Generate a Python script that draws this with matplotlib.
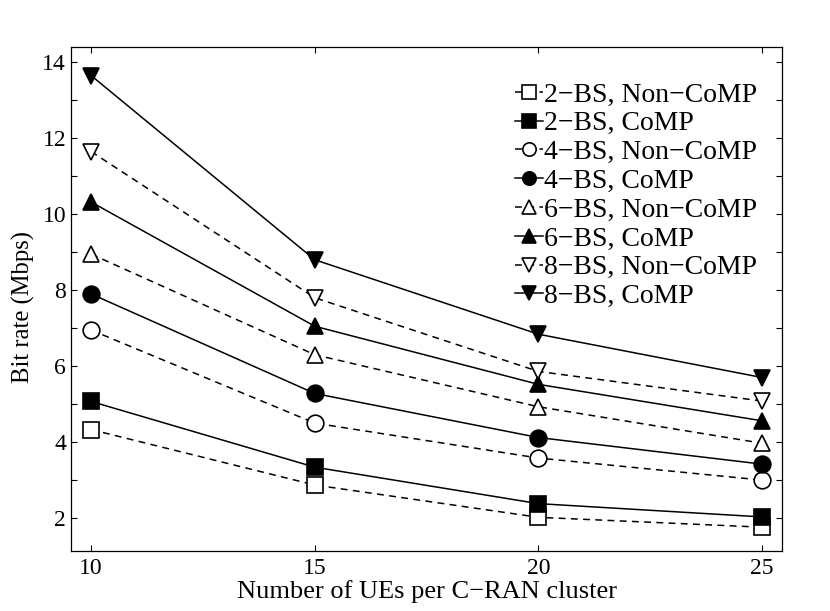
import numpy as np
import matplotlib.pyplot as plt
from matplotlib.ticker import MultipleLocator

plt.rcParams['font.family'] = ['Liberation Serif', 'DejaVu Serif']

# data
ues = [10, 15, 20, 25]
bs2_noncomp = [4.33, 2.87, 2.02, 1.76]
bs2_comp = [5.07, 3.34, 2.38, 2.03]
bs4_noncomp = [6.95, 4.50, 3.58, 3.00]
bs4_comp = [7.90, 5.28, 4.12, 3.42]
bs6_noncomp = [8.95, 6.30, 4.93, 3.97]
bs6_comp = [10.32, 7.05, 5.52, 4.56]
bs8_noncomp = [11.65, 7.80, 5.86, 5.08]
bs8_comp = [13.65, 8.80, 6.84, 5.70]

labels = ["2\u2212BS, Non\u2212CoMP", "2\u2212BS, CoMP",
          "4\u2212BS, Non\u2212CoMP", "4\u2212BS, CoMP",
          "6\u2212BS, Non\u2212CoMP", "6\u2212BS, CoMP",
          "8\u2212BS, Non\u2212CoMP", "8\u2212BS, CoMP"]
series = [bs2_noncomp, bs2_comp, bs4_noncomp, bs4_comp,
          bs6_noncomp, bs6_comp, bs8_noncomp, bs8_comp]
markers = ['s', 's', 'o', 'o', '^', '^', 'v', 'v']

fig = plt.figure(figsize=(8.3, 6.11), dpi=100)
ax = fig.add_axes([0.0855, 0.098, 0.857, 0.825])

for i, (y, lab, m) in enumerate(zip(series, labels, markers)):
    comp = (i % 2 == 1)
    ln, = ax.plot(ues, y, color='black', lw=1.1, marker=m, markersize=12,
                  markeredgewidth=1.2, markeredgecolor='black',
                  markerfacecolor='black' if comp else 'white',
                  label=lab)
    if not comp:
        ln.set_dashes((4.5, 3.5))

ax.set_xlim(9.55, 25.45)
ax.set_ylim(1.13, 14.4)
ax.set_xticks(ues)
ax.yaxis.set_major_locator(MultipleLocator(2))
ax.yaxis.set_minor_locator(MultipleLocator(1))
ax.tick_params(which='both', direction='in', top=True, right=True,
               length=4.5, width=0.8, labelsize=17)
ax.tick_params(axis='x', pad=5)
for s in ax.spines.values():
    s.set_linewidth(0.9)

ax.set_xlabel("Number of UEs per C\u2212RAN cluster", fontsize=19, labelpad=0.5)
ax.set_ylabel("Bit rate (Mbps)", fontsize=17.7)
ax.yaxis.set_label_coords(-0.05, 0.484)

leg = ax.legend(loc='upper right', bbox_to_anchor=(1.0, 0.98), fontsize=20,
                frameon=False, handlelength=1.0, handletextpad=0.05,
                labelspacing=0.12, borderaxespad=0.5, markerscale=0.8)

plt.savefig("out.png", dpi=100)
